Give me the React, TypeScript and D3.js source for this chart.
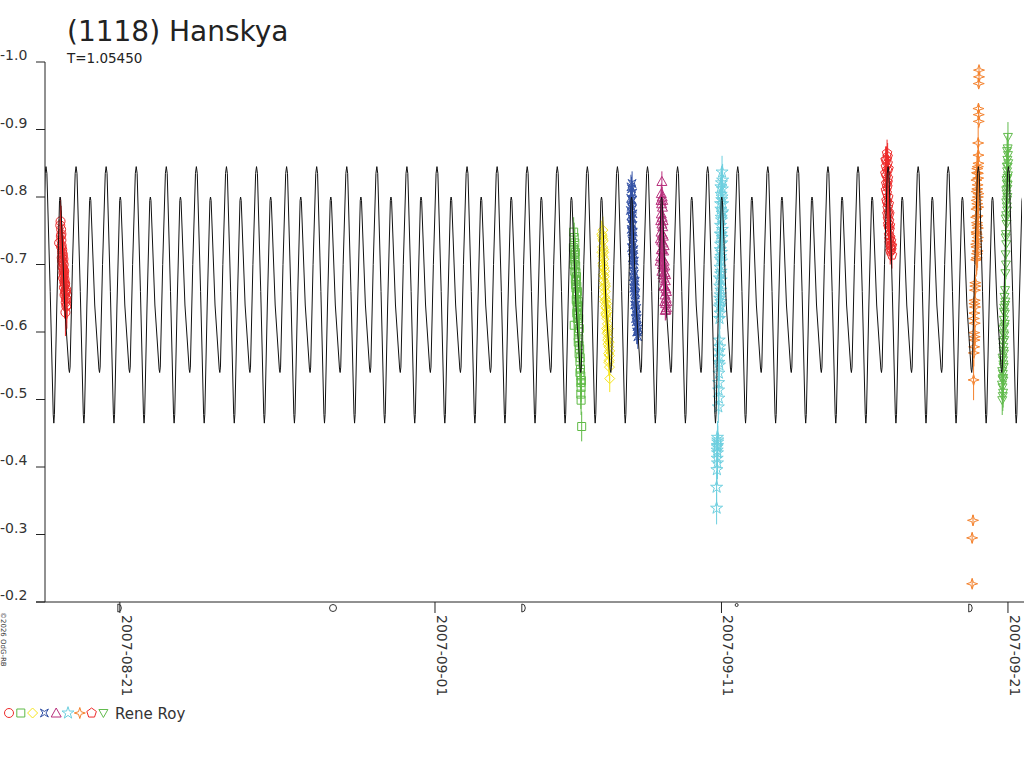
import React from 'react';
import * as d3 from 'd3';

// time is in days counted from 2007-07-31 00:00 UT, so 2007-08-21 0h = 21, 2007-09-01 0h = 32
const title = '(1118) Hanskya';
const periodLabel = 'T=1.05450';
const observer = 'Rene Roy';
const credit = '\u00a92026 OdG-RB';

const xDomain = [18.387, 52.49];
const yTicks = [-1.0, -0.9, -0.8, -0.7, -0.6, -0.5, -0.4, -0.3, -0.2];
const dateTicks = [
  { t: 21, label: '2007-08-21' },
  { t: 32, label: '2007-09-01' },
  { t: 42, label: '2007-09-11' },
  { t: 52, label: '2007-09-21' },
];
const moonPhases = [
  { t: 21.0, kind: 'quarter' },
  { t: 28.44, kind: 'full' },
  { t: 35.1, kind: 'quarter' },
  { t: 42.53, kind: 'new' },
  { t: 50.7, kind: 'quarter' },
];

// fitted curve: one cycle (phase, mag), repeated every period
const curveEpoch = 18.422;
const curvePeriod = 1.0498;
const cycleShape: [number, number][] = [
  [0.0, -0.845], [0.03, -0.835], [0.14, -0.66], [0.24, -0.478], [0.26, -0.465], [0.28, -0.478],
  [0.36, -0.64], [0.45, -0.795], [0.47, -0.8], [0.49, -0.795], [0.62, -0.64], [0.76, -0.545],
  [0.78, -0.54], [0.8, -0.548], [0.88, -0.7], [0.97, -0.835], [1.0, -0.845],
];

// observations [t, mag, err?]
type Obs = [number, number, number?];
const obsRedCircle: Obs[] = [
  [18.93, -0.764], [18.88, -0.732], [18.95, -0.752], [18.94, -0.742], [18.96, -0.736], [18.95, -0.726],
  [18.97, -0.728], [18.98, -0.718], [18.97, -0.71], [19.0, -0.712], [19.01, -0.703], [18.99, -0.697],
  [19.02, -0.695], [19.03, -0.688], [19.02, -0.68], [19.05, -0.684], [19.06, -0.674], [19.05, -0.666],
  [19.08, -0.67], [19.09, -0.661], [19.07, -0.655], [19.1, -0.657], [19.12, -0.65], [19.11, -0.644],
  [19.14, -0.648], [19.15, -0.64], [19.13, -0.663], [19.1, -0.629], [19.04, -0.7], [19.16, -0.655],
  [18.92, -0.758], [18.96, -0.745], [18.99, -0.722], [19.01, -0.715], [19.04, -0.692], [19.07, -0.678],
  [19.09, -0.672], [19.12, -0.66], [19.13, -0.638], [19.03, -0.708], [18.98, -0.705], [19.06, -0.69],
];
const obsGreenSquare: Obs[] = [
  [36.86, -0.74], [36.83, -0.725], [36.88, -0.732], [36.87, -0.715], [36.9, -0.718], [36.89, -0.705],
  [36.91, -0.698], [36.88, -0.69], [36.92, -0.688], [36.9, -0.678], [36.93, -0.675], [36.92, -0.665],
  [36.95, -0.668], [36.94, -0.655], [36.96, -0.658], [36.95, -0.645], [36.97, -0.64], [36.96, -0.632],
  [36.98, -0.636], [36.99, -0.626], [36.97, -0.62], [36.86, -0.61], [37.0, -0.612], [37.01, -0.6],
  [37.02, -0.59], [37.03, -0.58], [37.03, -0.568], [37.06, -0.556], [37.08, -0.545], [37.09, -0.535],
  [37.09, -0.525], [37.1, -0.518], [37.09, -0.508], [37.1, -0.499], [37.12, -0.46],
  [36.84, -0.748], [36.86, -0.722], [36.85, -0.7], [36.88, -0.708], [36.94, -0.682], [36.91, -0.67],
  [36.97, -0.66], [36.93, -0.648], [37.0, -0.645], [36.99, -0.638], [36.95, -0.628], [37.02, -0.62],
  [37.04, -0.605], [37.0, -0.585], [37.05, -0.575], [37.07, -0.562], [37.06, -0.54], [37.11, -0.528],
];
const obsYellowDiamond: Obs[] = [
  [37.86, -0.751], [37.84, -0.742], [37.87, -0.735], [37.85, -0.726], [37.88, -0.722], [37.86, -0.712],
  [37.89, -0.708], [37.87, -0.698], [37.9, -0.695], [37.88, -0.685], [37.91, -0.682], [37.93, -0.672],
  [37.9, -0.666], [37.94, -0.66], [37.92, -0.652], [37.96, -0.648], [37.95, -0.638], [37.98, -0.635],
  [37.97, -0.625], [38.0, -0.62], [38.02, -0.612], [37.99, -0.605], [38.03, -0.6], [38.05, -0.592],
  [38.04, -0.582], [38.07, -0.578], [38.06, -0.568], [38.09, -0.565], [38.08, -0.558], [38.1, -0.531],
  [37.82, -0.745], [37.85, -0.738], [37.83, -0.718], [37.89, -0.718], [37.86, -0.702], [37.92, -0.69],
  [37.89, -0.676], [37.95, -0.668], [37.93, -0.645], [37.99, -0.642], [37.96, -0.628], [38.02, -0.63],
  [38.01, -0.598], [38.06, -0.605], [38.03, -0.588], [38.08, -0.585], [38.1, -0.572], [38.07, -0.555],
  [38.09, -0.548],
];
const obsBlueCross: Obs[] = [
  [38.88, -0.82], [38.86, -0.812], [38.9, -0.806], [38.83, -0.798], [38.87, -0.795], [38.85, -0.786],
  [38.89, -0.782], [38.84, -0.772], [38.88, -0.768], [38.86, -0.76], [38.91, -0.758], [38.87, -0.748],
  [38.9, -0.742], [38.88, -0.735], [38.92, -0.73], [38.9, -0.72], [38.93, -0.715], [38.91, -0.706],
  [38.94, -0.7], [38.93, -0.69], [38.96, -0.686], [38.95, -0.676], [38.97, -0.67], [38.96, -0.66],
  [38.99, -0.655], [38.98, -0.645], [39.01, -0.64], [39.0, -0.63], [39.03, -0.625], [39.02, -0.615],
  [39.05, -0.608], [39.07, -0.6], [39.08, -0.593],
  [38.84, -0.815], [38.89, -0.795], [38.82, -0.78], [38.91, -0.775], [38.85, -0.752], [38.92, -0.748],
  [38.86, -0.725], [38.94, -0.722], [38.89, -0.71], [38.96, -0.705], [38.92, -0.682], [38.99, -0.675],
  [38.94, -0.665], [39.01, -0.658], [38.97, -0.64], [39.04, -0.635], [39.0, -0.62], [39.06, -0.62],
  [39.04, -0.6], [39.09, -0.605],
];
const obsMagentaTriangle: Obs[] = [
  [39.92, -0.823], [39.9, -0.805], [39.93, -0.8], [39.91, -0.79], [39.94, -0.785], [39.9, -0.775],
  [39.93, -0.77], [39.92, -0.76], [39.95, -0.756], [39.89, -0.748], [39.94, -0.745], [39.91, -0.735],
  [39.96, -0.732], [39.93, -0.722], [39.98, -0.72], [39.88, -0.712], [39.95, -0.708], [40.0, -0.705],
  [39.97, -0.696], [39.92, -0.69], [40.02, -0.688], [39.99, -0.68], [40.04, -0.676], [40.01, -0.668],
  [40.06, -0.664], [40.03, -0.655], [40.07, -0.65], [40.05, -0.642], [40.08, -0.636], [40.06, -0.633],
  [39.89, -0.795], [39.95, -0.795], [39.88, -0.765], [39.96, -0.765], [39.87, -0.738], [39.97, -0.742],
  [39.9, -0.722], [40.0, -0.728], [39.86, -0.705], [39.94, -0.7], [40.02, -0.698], [39.96, -0.685],
  [40.05, -0.685], [39.98, -0.668], [40.08, -0.66], [40.02, -0.645], [40.09, -0.645], [40.04, -0.632],
];
const obsCyanStar: Obs[] = [
  [42.02, -0.837], [42.0, -0.821], [42.03, -0.812], [41.99, -0.804], [42.01, -0.796], [42.04, -0.79],
  [41.98, -0.782], [42.02, -0.776], [42.0, -0.766], [41.97, -0.758], [42.03, -0.752], [41.99, -0.745],
  [42.01, -0.732], [41.96, -0.722], [41.98, -0.712], [42.0, -0.705], [41.95, -0.696], [41.97, -0.686],
  [41.99, -0.677], [41.94, -0.668], [41.96, -0.655], [41.98, -0.645], [41.93, -0.637], [41.95, -0.628],
  [41.92, -0.588], [41.94, -0.578], [41.92, -0.563], [41.93, -0.551], [41.91, -0.539], [41.9, -0.514],
  [41.91, -0.502], [41.89, -0.489], [41.86, -0.444], [41.87, -0.437], [41.85, -0.43], [41.86, -0.421],
  [41.85, -0.413], [41.86, -0.406], [41.84, -0.396], [41.83, -0.37], [41.83, -0.339],
  [42.04, -0.825], [41.98, -0.815], [42.02, -0.8], [41.97, -0.79], [42.04, -0.778], [41.99, -0.77],
  [41.96, -0.745], [42.02, -0.74], [41.97, -0.73], [42.0, -0.718], [41.96, -0.708], [41.99, -0.69],
  [41.93, -0.68], [41.98, -0.662], [41.94, -0.65], [41.96, -0.64], [41.93, -0.62], [41.92, -0.572],
  [41.91, -0.555], [41.9, -0.525], [41.87, -0.44], [41.86, -0.432], [41.85, -0.425],
];
const obsOrangeStar4: Obs[] = [
  [50.99, -0.988, 0.006], [50.99, -0.978, 0.006], [50.98, -0.968, 0.006], [50.97, -0.931, 0.008],
  [50.98, -0.922, 0.008], [50.98, -0.912, 0.01], [50.96, -0.88], [50.97, -0.862], [50.95, -0.845],
  [50.92, -0.836], [50.96, -0.828], [50.94, -0.818], [50.91, -0.808], [50.95, -0.8], [50.93, -0.79],
  [50.9, -0.782], [50.94, -0.772], [50.92, -0.762], [50.95, -0.754], [50.91, -0.745], [50.93, -0.735],
  [50.9, -0.726], [50.92, -0.716], [50.89, -0.707], [50.86, -0.673, 0.012], [50.85, -0.662, 0.012],
  [50.84, -0.647, 0.012], [50.85, -0.637, 0.012], [50.83, -0.628, 0.012], [50.84, -0.613, 0.012],
  [50.82, -0.599, 0.012], [50.83, -0.588, 0.012], [50.82, -0.578, 0.012], [50.81, -0.569, 0.02],
  [50.8, -0.529, 0.03], [50.78, -0.321, 0.008], [50.75, -0.295, 0.008], [50.75, -0.227, 0.006],
  [50.97, -0.85], [50.93, -0.842], [50.95, -0.835], [50.9, -0.825], [50.93, -0.812], [50.97, -0.805],
  [50.91, -0.795], [50.96, -0.785], [50.89, -0.77], [50.93, -0.758], [50.9, -0.748], [50.95, -0.74],
  [50.89, -0.73], [50.94, -0.72], [50.91, -0.71], [50.86, -0.668, 0.012], [50.83, -0.642, 0.012],
  [50.81, -0.62, 0.012], [50.84, -0.593, 0.012],
];
const obsRedPentagon: Obs[] = [
  [47.78, -0.865], [47.76, -0.855], [47.8, -0.85], [47.74, -0.845], [47.78, -0.84], [47.76, -0.832],
  [47.81, -0.828], [47.75, -0.82], [47.79, -0.815], [47.77, -0.806], [47.82, -0.8], [47.78, -0.792],
  [47.8, -0.784], [47.83, -0.778], [47.81, -0.768], [47.85, -0.765], [47.83, -0.756], [47.87, -0.752],
  [47.85, -0.744], [47.89, -0.74], [47.87, -0.732], [47.91, -0.728], [47.89, -0.72], [47.93, -0.722],
  [47.95, -0.714],
  [47.73, -0.855], [47.8, -0.86], [47.72, -0.835], [47.83, -0.842], [47.74, -0.81], [47.8, -0.822],
  [47.76, -0.795], [47.84, -0.79], [47.79, -0.775], [47.86, -0.775], [47.82, -0.76], [47.88, -0.758],
  [47.86, -0.738], [47.92, -0.735], [47.9, -0.725], [47.95, -0.728],
];
const obsGreenDown: Obs[] = [
  [52.0, -0.889], [51.99, -0.872], [52.0, -0.862], [51.98, -0.855], [51.99, -0.845], [51.97, -0.838],
  [51.98, -0.828], [51.96, -0.82], [51.98, -0.812], [51.95, -0.805], [51.97, -0.796], [51.96, -0.786],
  [51.94, -0.773], [51.95, -0.76], [51.93, -0.745], [51.94, -0.73], [51.92, -0.715], [51.93, -0.7],
  [51.91, -0.687], [51.9, -0.662], [51.88, -0.652], [51.91, -0.645], [51.87, -0.636], [51.89, -0.627],
  [51.86, -0.618], [51.88, -0.608], [51.85, -0.598], [51.87, -0.588], [51.84, -0.578], [51.86, -0.568],
  [51.83, -0.558], [51.85, -0.548], [51.82, -0.538], [51.84, -0.528], [51.81, -0.518], [51.83, -0.51],
  [51.8, -0.499],
  [51.97, -0.868], [52.01, -0.85], [51.96, -0.845], [52.0, -0.832], [51.95, -0.825], [51.99, -0.818],
  [51.94, -0.81], [51.98, -0.8], [51.94, -0.792], [51.97, -0.78], [51.92, -0.768], [51.92, -0.74],
  [51.9, -0.64], [51.86, -0.63], [51.89, -0.612], [51.84, -0.605], [51.87, -0.595], [51.83, -0.585],
  [51.85, -0.572], [51.81, -0.562], [51.84, -0.552], [51.8, -0.542], [51.83, -0.532], [51.79, -0.522],
  [51.82, -0.505], [51.81, -0.53],
];

const series = [
  { data: obsRedCircle, color: '#ee2b2b', shape: 'circle', err: 0.035 },
  { data: obsGreenSquare, color: '#5fba46', shape: 'square', err: 0.022 },
  { data: obsYellowDiamond, color: '#f6e51e', shape: 'diamond', err: 0.02 },
  { data: obsBlueCross, color: '#3553a6', shape: 'cross', err: 0.018 },
  { data: obsMagentaTriangle, color: '#b82f7c', shape: 'triangle', err: 0.015 },
  { data: obsCyanStar, color: '#6dcfdf', shape: 'star', err: 0.024 },
  { data: obsOrangeStar4, color: '#f4822d', shape: 'star4', err: 0.025 },
  { data: obsRedPentagon, color: '#ee2b2b', shape: 'pentagon', err: 0.02 },
  { data: obsGreenDown, color: '#62bb4d', shape: 'down', err: 0.022 },
];

const font = '"DejaVu Sans", Verdana, sans-serif';

function shapePath(shape: string): string {
  switch (shape) {
    case 'circle':
      return d3.symbol(d3.symbolCircle, Math.PI * 4.5 * 4.5)() as string;
    case 'square':
      return 'M-4,-4L4,-4L4,4L-4,4Z';
    case 'diamond':
      return 'M0,-5L5,0L0,5L-5,0Z';
    case 'cross':
      return 'M-4,-4L0,-1.6L4,-4L1.6,0L4,4L0,1.6L-4,4L-1.6,0Z';
    case 'triangle':
      return 'M0,-5L5,4L-5,4Z';
    case 'star':
      return d3.symbol(d3.symbolStar, 45)() as string;
    case 'star4':
      return 'M0,-5.5L1.3,-1.3L5.5,0L1.3,1.3L0,5.5L-1.3,1.3L-5.5,0L-1.3,-1.3Z';
    case 'pentagon': {
      const pts = d3.range(5).map((i) => {
        const a = -Math.PI / 2 + (i * 2 * Math.PI) / 5;
        return `${(5 * Math.cos(a)).toFixed(2)},${(5 * Math.sin(a)).toFixed(2)}`;
      });
      return 'M' + pts.join('L') + 'Z';
    }
    default:
      return 'M-4.5,-3.5L4.5,-3.5L0,4.5Z';
  }
}

export default function App() {
  const width = 1024;
  const height = 768;
  const x = d3.scaleLinear().domain(xDomain).range([45, 1022]);
  const y = d3.scaleLinear().domain([-1.0, -0.2]).range([62, 602]);

  // repeat the cycle across the visible time span
  const curvePts: [number, number][] = [];
  const k0 = Math.floor((xDomain[0] - curveEpoch) / curvePeriod) - 1;
  const k1 = Math.ceil((xDomain[1] - curveEpoch) / curvePeriod) + 1;
  for (let k = k0; k <= k1; k++) {
    cycleShape.forEach(([p, m], i) => {
      if (i === 0 && k !== k0) return;
      curvePts.push([curveEpoch + (k + p) * curvePeriod, m]);
    });
  }
  const line = d3
    .line<[number, number]>()
    .x((d) => x(d[0]))
    .y((d) => y(d[1]));

  return (
    <svg
      width={width}
      height={height}
      style={{ position: 'absolute', left: 0, top: 0, background: '#fff' }}
      fontFamily={font}
    >
      <defs>
        <clipPath id="plot">
          <rect x={45} y={40} width={977} height={562} />
        </clipPath>
      </defs>

      <text x={67} y={41} fontSize={28} fill="#222">
        {title}
      </text>
      <text x={67} y={63} fontSize={13.5} fill="#222">
        {periodLabel}
      </text>

      {/* y axis */}
      <line x1={45} x2={45} y1={62} y2={602} stroke="#222" />
      {yTicks.map((v) => (
        <g key={v}>
          <line x1={36} x2={45} y1={y(v)} y2={y(v)} stroke="#222" />
          <text x={0} y={y(v) - 2} fontSize={14} fill="#333">
            {v.toFixed(1)}
          </text>
        </g>
      ))}

      {/* x axis */}
      <line x1={36} x2={1024} y1={602} y2={602} stroke="#222" />
      {dateTicks.map((d) => (
        <g key={d.label}>
          <line x1={x(d.t)} x2={x(d.t)} y1={602} y2={613} stroke="#222" />
          <text
            transform={`translate(${x(d.t) + 2},615) rotate(90)`}
            fontSize={14}
            fill="#333"
          >
            {d.label}
          </text>
        </g>
      ))}

      {/* moon phases */}
      {moonPhases.map((m) => {
        const cx = x(m.t);
        if (m.kind === 'full')
          return <circle key={m.t} cx={cx} cy={608} r={3.5} fill="none" stroke="#333" />;
        if (m.kind === 'new')
          return <circle key={m.t} cx={cx} cy={605} r={1.5} fill="none" stroke="#333" />;
        return (
          <path
            key={m.t}
            d={`M${cx - 2},604L${cx - 2},612A3.5,4,0,0,0,${cx - 2},604Z`}
            fill="none"
            stroke="#333"
          />
        );
      })}

      <text transform="translate(1,612) rotate(90)" fontSize={7} fill="#333">
        {credit}
      </text>

      {/* observations */}
      <g clipPath="url(#plot)">
        {series.map((s, si) => (
          <g key={si}>
            {s.data.map((d, i) => {
              const e = d[2] ?? s.err;
              return (
                <line
                  key={'e' + i}
                  x1={x(d[0])}
                  x2={x(d[0])}
                  y1={y(d[1] - e)}
                  y2={y(d[1] + e)}
                  stroke={s.color}
                />
              );
            })}
            {s.data.map((d, i) => (
              <path
                key={'p' + i}
                d={shapePath(s.shape)}
                transform={`translate(${x(d[0])},${y(d[1])})`}
                fill="none"
                stroke={s.color}
              />
            ))}
          </g>
        ))}
        <path d={line(curvePts) as string} fill="none" stroke="#111" strokeWidth={1} />
      </g>

      {/* legend */}
      {series.map((s, i) => (
        <path
          key={'l' + i}
          d={shapePath(s.shape)}
          transform={`translate(${9 + i * 11.8},713)`}
          fill="none"
          stroke={s.color}
        />
      ))}
      <text x={115} y={719} fontSize={15} fill="#333">
        {observer}
      </text>
    </svg>
  );
}
